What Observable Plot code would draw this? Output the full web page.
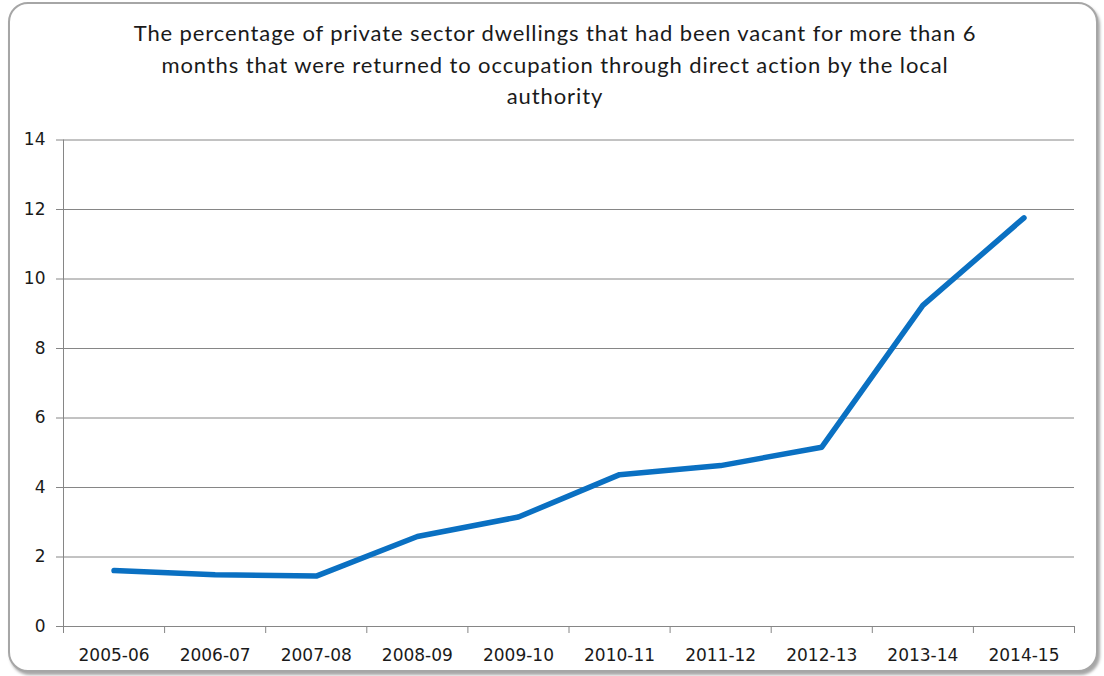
<!DOCTYPE html>
<html>
<head>
<meta charset="utf-8">
<script src="https://cdn.jsdelivr.net/npm/d3@7"></script>
<script src="https://cdn.jsdelivr.net/npm/@observablehq/plot@0.6"></script>
<style>
  html, body { margin: 0; padding: 0; background: #ffffff; }
  #page { position: relative; width: 1104px; height: 676px; overflow: hidden; background: #fff; }
  #frame { position: absolute; left: 8px; top: 2px; width: 1086px; height: 666px;
           border: 2px solid #a6a6a6; border-radius: 20px; box-shadow: 2px 3px 3px rgba(0,0,0,0.35); background: #fff; }
  #title { position: absolute; left: 0; top: 17px; width: 1110px; text-align: center;
           font-family: Lato, "Open Sans", sans-serif; font-size: 22px; letter-spacing: 0.9px; line-height: 31.6px; color: #1a1a1a; }
  #chart { position: absolute; left: 0; top: 120px; }
</style>
</head>
<body>
<div id="page">
  <div id="frame"></div>
  <div id="title">The percentage of private sector dwellings that had been vacant for more than 6<br>months that were returned to occupation through direct action by the local<br>authority</div>
  <div id="chart"></div>
</div>
<script>
const categories = ["2005-06", "2006-07", "2007-08", "2008-09", "2009-10", "2010-11", "2011-12", "2012-13", "2013-14", "2014-15"];
const values = [1.61, 1.49, 1.45, 2.59, 3.15, 4.37, 4.63, 5.16, 9.24, 11.76];
const yTicks = [0, 2, 4, 6, 8, 10, 12, 14];

const data = categories.map((c, i) => ({i, category: c, value: values[i]}));
const n = categories.length;
const boundaries = d3.range(n + 1).map(k => k - 0.5);
const centers = d3.range(n);

const gray = "#868686";

const chart = Plot.plot({
  width: 1104,
  height: 556,
  marginLeft: 63,
  marginRight: 30,
  marginTop: 19.5,
  marginBottom: 50,
  style: {fontFamily: "'DejaVu Sans', sans-serif", fontSize: "17px", color: "#1a1a1a", background: "transparent", overflow: "visible"},
  x: {type: "linear", domain: [-0.5, n - 0.5], label: null},
  y: {domain: [0, 14], label: null},
  marks: [
    Plot.gridY(yTicks, {stroke: gray, strokeOpacity: 1, strokeWidth: 1}),
    Plot.axisY({ticks: yTicks, tickSize: 7, tickPadding: 11, stroke: gray, strokeOpacity: 1, fontSize: 17, label: null}),
    Plot.ruleX([-0.5], {stroke: gray, strokeWidth: 1}),
    Plot.axisX({ticks: boundaries, tickSize: 7, tickFormat: () => "", stroke: gray, strokeOpacity: 1, label: null}),
    Plot.axisX({ticks: centers, tickSize: 0, tickPadding: 22, tickFormat: i => categories[i], fontSize: 17, label: null}),
    Plot.line(data, {x: "i", y: "value", stroke: "#0a70c2", strokeWidth: 5.5, strokeLinecap: "round", strokeLinejoin: "round"})
  ]
});
document.getElementById("chart").appendChild(chart);
</script>
</body>
</html>
